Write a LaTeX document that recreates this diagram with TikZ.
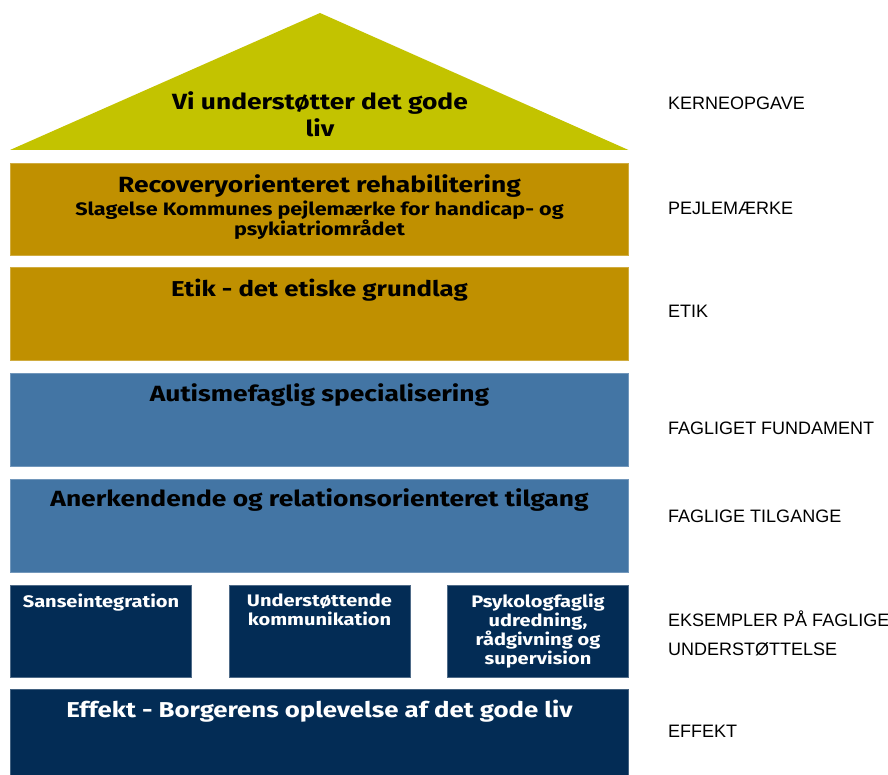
\documentclass[tikz,border=0pt]{standalone}
\usepackage{fontspec}
\setmainfont{Liberation Sans}
\newfontfamily\boxfont[FakeStretch=1.2]{Fira Sans}
\usetikzlibrary{positioning}
\definecolor{roof}{RGB}{195,195,0}
\definecolor{gold}{RGB}{192,144,0}
\definecolor{steel}{RGB}{67,117,164}
\definecolor{navy}{RGB}{3,44,85}

\begin{document}
\begin{tikzpicture}[x=1pt, y=-1pt,
  tier/.style={fill=#1, draw=#1!75!white, line width=0.8pt, minimum width=618pt, minimum height=92.8pt, inner sep=0pt, outer sep=0pt},
  pillar/.style={fill=navy, draw=navy!70!white, line width=0.8pt, minimum width=181pt, minimum height=92pt, inner sep=0pt, outer sep=0pt},
  head/.style={font=\boxfont\bfseries\fontsize{22}{27}\selectfont, align=center, inner sep=0pt},
  sub/.style={font=\boxfont\bfseries\fontsize{18}{19}\selectfont, align=center, inner sep=0pt},
  small/.style={font=\boxfont\bfseries\fontsize{16.7}{19}\selectfont, align=center, inner sep=0pt, text=white},
  side/.style={anchor=west, align=left, inner sep=0pt, font=\fontsize{18}{29}\selectfont}]
  \useasboundingbox (0,0) rectangle (888,775);
  %roof
  \coordinate (top) at (320,13);
  \coordinate (bl) at (10,150);
  \coordinate (br) at (628.5,150);
  \fill[roof] (bl) -- (top) -- (br) -- cycle;
  \node[head] (vi) at (320,114) {Vi understøtter det gode\\liv};
  %tiers
  \node[tier=gold] (rec) at (319.5,209.5) {};
  \node[tier=gold, below=12pt of rec] (etik) {};
  \node[tier=steel, below=13pt of etik] (aut) {};
  \node[tier=steel, below=13pt of aut] (aner) {};
  \node[pillar, below right=13pt and 0pt of aner.south west] (p1) {};
  \node[pillar, below=13pt of aner.south] (p2) {};
  \node[pillar, below left=13pt and 0pt of aner.south east] (p3) {};
  \node[tier=navy, minimum height=90pt, below=12pt of p2] (eff) {};
  %texts
  \node[head, below=11pt of rec.north] (rect) {Recoveryorienteret rehabilitering};
  \node[sub, below=3pt of rect] (recs) {Slagelse Kommunes pejlemærke for handicap- og\\psykiatriområdet};
  \node[head, font=\boxfont\bfseries\fontsize{21.5}{26}\selectfont, below=11pt of etik.north] (etikt) {Etik - det etiske grundlag};
  \node[head, below=10pt of aut.north] (autt) {Autismefaglig specialisering};
  \node[head, below=9pt of aner.north] (anert) {Anerkendende og relationsorienteret tilgang};
  \node[small, below=8pt of p1.north] (p1t) {Sanseintegration};
  \node[small, below=8pt of p2.north] (p2t) {Understøttende\\kommunikation};
  \node[small, below=8pt of p3.north] (p3t) {Psykologfaglig\\udredning,\\rådgivning og\\supervision};
  \node[head, font=\boxfont\bfseries\fontsize{21.5}{26}\selectfont, text=white, below=11pt of eff.north] (efft) {Effekt - Borgerens oplevelse af det gode liv};
  %side labels
  \node[side] (s1) at (668,103) {KERNEOPGAVE};
  \node[side] (s2) at (668,208) {PEJLEMÆRKE};
  \node[side] (s3) at (668,311) {ETIK};
  \node[side] (s4) at (668,428) {FAGLIGET FUNDAMENT};
  \node[side] (s5) at (668,516) {FAGLIGE TILGANGE};
  \node[side] (s6) at (668,633.5) {EKSEMPLER PÅ FAGLIGE\\UNDERSTØTTELSE};
  \node[side] (s7) at (668,731) {EFFEKT};
\end{tikzpicture}
\end{document}
